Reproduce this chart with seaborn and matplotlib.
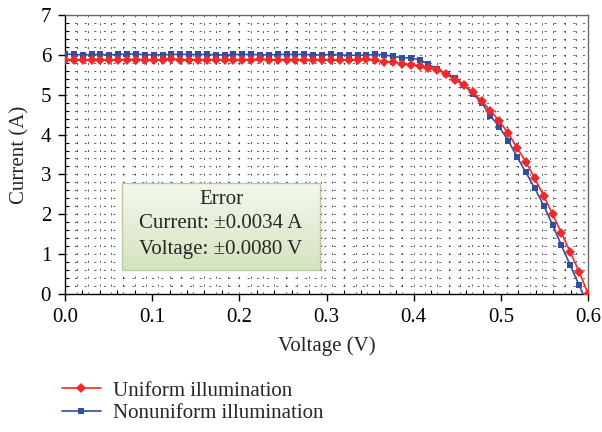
import numpy as np
import pandas as pd
import matplotlib
matplotlib.use("Agg")
import matplotlib.pyplot as plt
import seaborn as sns
from matplotlib.patches import Rectangle

# --- data ---
voltage = [0.0000, 0.0102, 0.0203, 0.0305, 0.0407, 0.0508, 0.0610, 0.0712, 0.0814, 0.0915,
           0.1017, 0.1119, 0.1220, 0.1322, 0.1424, 0.1525, 0.1627, 0.1729, 0.1831, 0.1932,
           0.2034, 0.2136, 0.2237, 0.2339, 0.2441, 0.2542, 0.2644, 0.2746, 0.2847, 0.2949,
           0.3051, 0.3153, 0.3254, 0.3356, 0.3458, 0.3559, 0.3661, 0.3763, 0.3864, 0.3966,
           0.4068, 0.4169, 0.4271, 0.4373, 0.4475, 0.4576, 0.4678, 0.4780, 0.4881, 0.4983,
           0.5085, 0.5186, 0.5288, 0.5390, 0.5492, 0.5593, 0.5695, 0.5797, 0.5898, 0.6000]

current_uniform = [5.88, 5.87, 5.87, 5.88, 5.87, 5.87, 5.87, 5.88, 5.88, 5.88,
                   5.86, 5.88, 5.89, 5.88, 5.87, 5.87, 5.86, 5.88, 5.88, 5.87,
                   5.87, 5.87, 5.89, 5.87, 5.87, 5.87, 5.86, 5.87, 5.88, 5.87,
                   5.88, 5.86, 5.87, 5.88, 5.89, 5.86, 5.83, 5.82, 5.78, 5.75,
                   5.72, 5.68, 5.63, 5.51, 5.37, 5.24, 5.07, 4.84, 4.60, 4.34,
                   4.03, 3.67, 3.31, 2.90, 2.46, 2.01, 1.53, 1.05, 0.56, 0.01]

current_nonuniform = [6.02, 6.01, 6.00, 6.01, 6.01, 6.00, 6.01, 6.02, 6.02, 6.00,
                      6.00, 6.00, 6.01, 6.01, 6.01, 6.01, 6.01, 6.00, 6.00, 6.01,
                      6.01, 6.01, 6.00, 6.00, 6.01, 6.01, 6.01, 6.01, 6.00, 6.00,
                      6.01, 6.00, 5.99, 5.99, 5.99, 6.01, 6.00, 5.96, 5.93, 5.92,
                      5.88, 5.76, 5.65, 5.53, 5.42, 5.24, 5.03, 4.80, 4.47, 4.19,
                      3.85, 3.44, 3.05, 2.65, 2.22, 1.74, 1.22, 0.72, 0.22, -0.28]

series_names = ["Uniform illumination", "Nonuniform illumination"]
error_lines = ["Error", "Current: \u00b10.0034 A", "Voltage: \u00b10.0080 V"]

RED = "#ee2a2a"
BLUE = "#2f4f9f"
FS = 15

sns.set_style("ticks")
plt.rcParams["font.family"] = ["Liberation Serif", "DejaVu Serif"]
plt.rcParams["font.size"] = FS

df = pd.DataFrame({
    "Voltage": voltage + voltage,
    "Current": current_uniform + current_nonuniform,
    "Series": [series_names[0]] * len(voltage) + [series_names[1]] * len(voltage),
})

fig = plt.figure(figsize=(6.02, 4.32), dpi=100)
ax = fig.add_axes([65 / 602, 1 - 294 / 432, 523 / 602, 279 / 432])

# dotted background grid (lighter and sparser than default)
for gx in np.arange(0.6 / 45, 0.6, 0.6 / 45):
    ax.axvline(gx, color="#444444", lw=0.6, ls=(0, (2.5, 7)), zorder=0)
for gy in np.arange(0.2, 7, 0.2):
    ax.axhline(gy, color="#444444", lw=0.6, ls=(0, (2.5, 9)), zorder=0)

sns.lineplot(data=df[df["Series"] == series_names[0]], x="Voltage", y="Current",
             color=RED, marker="D", markersize=4.8, markeredgewidth=0, lw=1.2,
             label=series_names[0], ax=ax, zorder=4, sort=False)
sns.lineplot(data=df[df["Series"] == series_names[1]], x="Voltage", y="Current",
             color=BLUE, marker="s", markersize=5, markeredgewidth=0, lw=1.2,
             label=series_names[1], ax=ax, zorder=3, sort=False)

# error box with a soft green gradient (light on top, greener at the bottom)
bx0, bx1, by0, by1 = 0.0655, 0.2925, 0.61, 2.79
grad = np.linspace(0, 1, 100).reshape(-1, 1)
cmap = matplotlib.colors.LinearSegmentedColormap.from_list("g", ["#f4f8ee", "#d5e3bf"])
ax.imshow(grad, extent=[bx0, bx1, by0, by1], aspect="auto", cmap=cmap, zorder=5,
          origin="upper")
ax.add_patch(Rectangle((bx0, by0), bx1 - bx0, by1 - by0, fill=False,
                       edgecolor="#b9cca0", lw=1.0, zorder=6))
cx = (bx0 + bx1) / 2
for txt, yy in zip(error_lines, [2.36, 1.76, 1.12]):
    ax.text(cx, yy, txt, ha="center", va="center", fontsize=FS, zorder=7)

ax.set_xlim(0, 0.6)
ax.set_ylim(0, 7)
ax.set_xticks([0.0, 0.1, 0.2, 0.3, 0.4, 0.5, 0.6])
ax.set_xticklabels(["0.0", "0.1", "0.2", "0.3", "0.4", "0.5", "0.6"])
ax.set_yticks(range(8))
ax.set_xticks(np.arange(0, 0.61, 0.02), minor=True)
ax.set_yticks(np.arange(0, 7.01, 0.2), minor=True)
ax.tick_params(which="major", direction="out", length=5, width=1, colors="black",
               labelsize=FS, pad=5)
ax.tick_params(which="minor", direction="in", length=3, width=0.8, colors="black")
ax.set_xlabel("Voltage (V)", fontsize=FS, labelpad=7)
ax.set_ylabel("Current (A)", fontsize=FS, labelpad=8)
for sp in ax.spines.values():
    sp.set_visible(True)
    sp.set_color("black")
    sp.set_linewidth(1.0)
ax.spines["right"].set_color("#666666")
ax.spines["top"].set_color("#666666")

ax.get_legend().remove()
handles, labels = ax.get_legend_handles_labels()
fig.legend(handles, labels, loc="upper left", bbox_to_anchor=(62 / 602, 1 - 381 / 432),
           frameon=False, fontsize=FS, handlelength=1.85, labelspacing=0.15,
           handletextpad=0.6, borderpad=0, borderaxespad=0)

fig.savefig("out.png", dpi=100)
